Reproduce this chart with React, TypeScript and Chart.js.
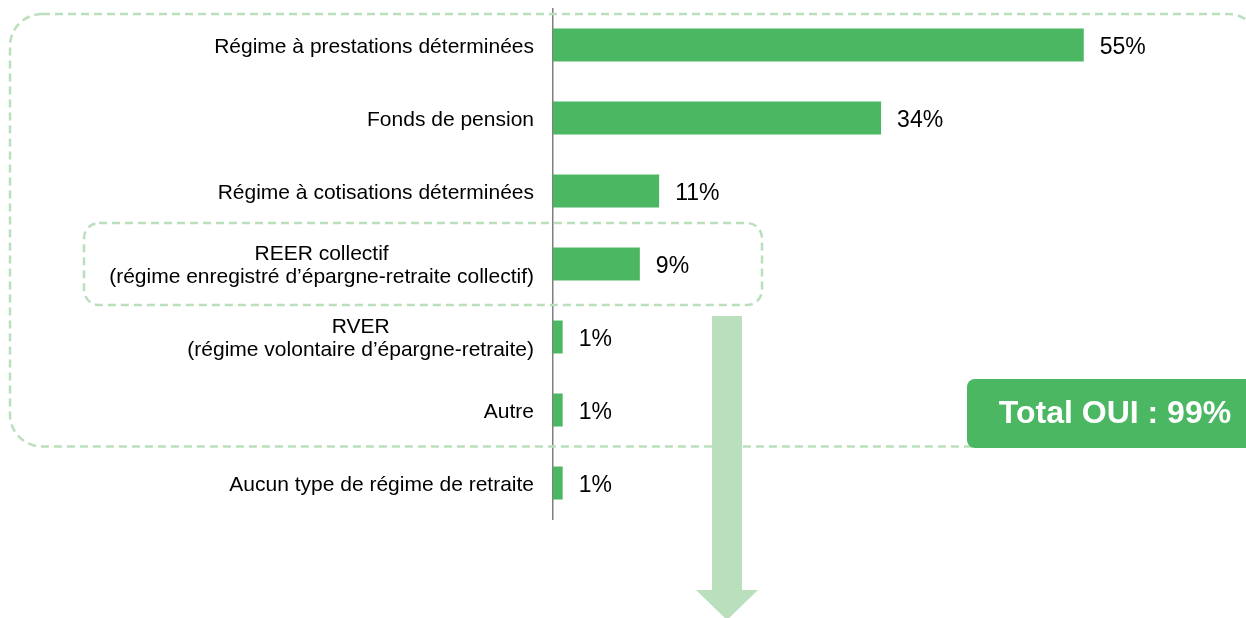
import React, { useEffect, useRef } from "react";
import { Chart, registerables } from "chart.js";

Chart.register(...registerables);

const CATEGORIES: string[][] = [
  ["Régime à prestations déterminées"],
  ["Fonds de pension"],
  ["Régime à cotisations déterminées"],
  ["REER collectif", "(régime enregistré d’épargne-retraite collectif)"],
  ["RVER", "(régime volontaire d’épargne-retraite)"],
  ["Autre"],
  ["Aucun type de régime de retraite"],
];
const VALUES: number[] = [55, 34, 11, 9, 1, 1, 1];
const VALUE_LABELS: string[] = VALUES.map((v) => `${v}%`);
const TOTAL_LABEL = "Total OUI : 99%";

const GREEN = "#4BB763";
const LIGHT_GREEN = "#BADFBC";
const FONT = '"Liberation Sans", Arial, sans-serif';

function roundRect(ctx: CanvasRenderingContext2D, x: number, y: number, w: number, h: number, r: number) {
  ctx.beginPath();
  ctx.moveTo(x + r, y);
  ctx.lineTo(x + w - r, y);
  ctx.arcTo(x + w, y, x + w, y + r, r);
  ctx.lineTo(x + w, y + h - r);
  ctx.arcTo(x + w, y + h, x + w - r, y + h, r);
  ctx.lineTo(x + r, y + h);
  ctx.arcTo(x, y + h, x, y + h - r, r);
  ctx.lineTo(x, y + r);
  ctx.arcTo(x, y, x + r, y, r);
  ctx.closePath();
}

const overlayPlugin = {
  id: "overlay",
  afterDraw(chart: any) {
    const ctx: CanvasRenderingContext2D = chart.ctx;
    const ys = chart.scales.y;
    const xs = chart.scales.x;
    const area = chart.chartArea;
    const rowH = ys.getPixelForValue(1) - ys.getPixelForValue(0);
    ctx.save();

    // dashed grouping boxes
    ctx.strokeStyle = LIGHT_GREEN;
    ctx.lineWidth = 2.5;
    ctx.setLineDash([8, 5]);
    const bigTop = ys.getPixelForValue(0) - rowH / 2 + 5.5;
    const bigBottom = ys.getPixelForValue(5) + rowH / 2;
    roundRect(ctx, 10, bigTop, 1250, bigBottom - bigTop, 32);
    ctx.stroke();
    const smTop = ys.getPixelForValue(3) - 41;
    const smBottom = ys.getPixelForValue(3) + 41;
    roundRect(ctx, 84, smTop, 678, smBottom - smTop, 15);
    ctx.stroke();
    ctx.setLineDash([]);

    // category labels
    ctx.fillStyle = "#000000";
    ctx.font = `21px ${FONT}`;
    ctx.textAlign = "center";
    ctx.textBaseline = "middle";
    const lh = 23;
    CATEGORIES.forEach((lines, i) => {
      const cy = ys.getPixelForValue(i) + 2;
      const widest = Math.max(...lines.map((l) => ctx.measureText(l).width));
      const cx = area.left - 19 - widest / 2;
      lines.forEach((l, j) => {
        ctx.fillText(l, cx, cy + (j - (lines.length - 1) / 2) * lh);
      });
    });

    // value labels
    ctx.font = `23px ${FONT}`;
    ctx.textAlign = "left";
    VALUES.forEach((v, i) => {
      ctx.fillText(VALUE_LABELS[i], xs.getPixelForValue(v) + 16, ys.getPixelForValue(i) + 3);
    });

    // arrow
    const arrowTop = ys.getPixelForValue(4) - 21;
    ctx.fillStyle = LIGHT_GREEN;
    ctx.beginPath();
    ctx.moveTo(712, arrowTop);
    ctx.lineTo(742, arrowTop);
    ctx.lineTo(742, 590);
    ctx.lineTo(758, 590);
    ctx.lineTo(727, 620);
    ctx.lineTo(696, 590);
    ctx.lineTo(712, 590);
    ctx.closePath();
    ctx.fill();

    // total box
    ctx.fillStyle = GREEN;
    roundRect(ctx, 967, 379, 295, 69, 8);
    ctx.fill();
    ctx.fillStyle = "#FFFFFF";
    ctx.font = `bold 32px ${FONT}`;
    ctx.textAlign = "center";
    ctx.fillText(TOTAL_LABEL, 1115, 414);

    ctx.restore();
  },
};

export default function App() {
  const ref = useRef<HTMLCanvasElement | null>(null);

  useEffect(() => {
    if (!ref.current) return;
    const chart = new Chart(ref.current, {
      type: "bar",
      data: {
        labels: CATEGORIES.map((l) => l.join(" ")),
        datasets: [
          {
            data: VALUES,
            backgroundColor: GREEN,
            borderWidth: 0,
            barPercentage: 0.45,
            categoryPercentage: 1,
          },
        ],
      },
      options: {
        indexAxis: "y",
        animation: false,
        responsive: false,
        maintainAspectRatio: false,
        layout: { padding: { top: 8.5, bottom: 98.5, right: 17.5, left: 0 } },
        plugins: {
          legend: { display: false },
          tooltip: { enabled: false },
        },
        scales: {
          x: { display: false, min: 0, max: 70 },
          y: {
            type: "category",
            display: true,
            ticks: { display: false },
            grid: { display: false },
            border: { display: true, color: "#7F7F7F", width: 1.5 },
            afterFit: (s: any) => {
              s.width = 553;
            },
          },
        },
      },
      plugins: [overlayPlugin],
    } as any);
    return () => chart.destroy();
  }, []);

  return (
    <div style={{ position: "fixed", left: 0, top: 0, width: 1246, height: 618, background: "#fff" }}>
      <canvas ref={ref} width={1246} height={618} style={{ display: "block" }} />
    </div>
  );
}
